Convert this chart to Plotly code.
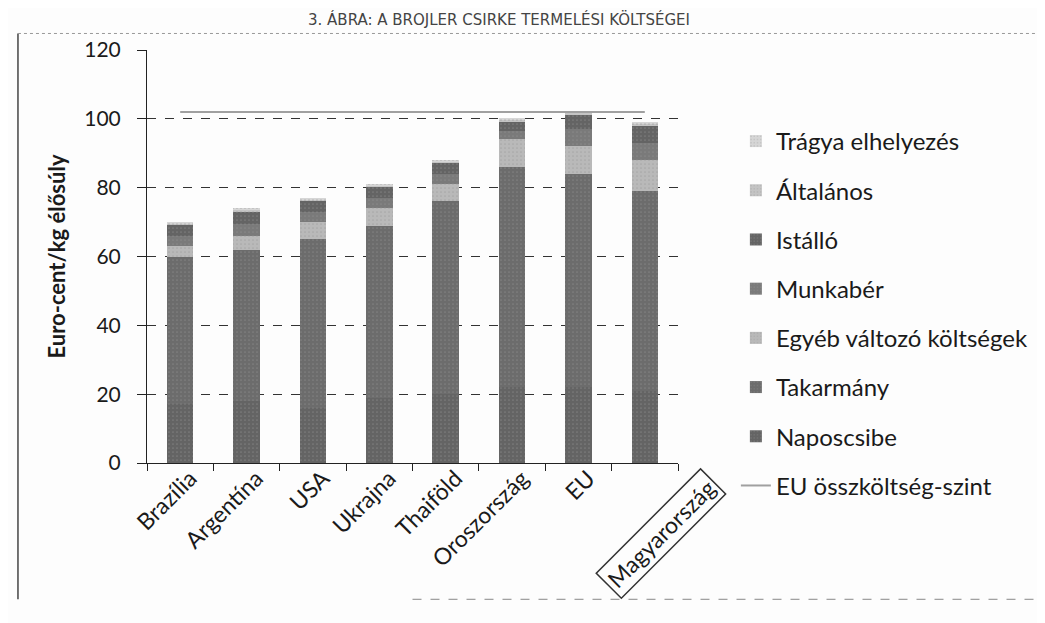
import plotly.graph_objects as go

# values (euro-cent / kg live weight)
countries = ['Brazília', 'Argentína', 'USA', 'Ukrajna', 'Thaiföld', 'Oroszország', 'EU', 'Magyarország']
naposcsibe = [17, 18, 16, 19, 20, 22, 22, 21]
takarmany = [43, 44, 49, 50, 56, 64, 62, 58]
egyeb = [3, 4, 5, 5, 5, 8, 8, 9]
munkaber = [3, 3.5, 3, 3, 3, 2.5, 5, 5]
istallo = [3.2, 3.7, 3.2, 3.2, 3.2, 2.7, 4.2, 5.2]
altalanos = [0.5, 0.5, 0.5, 0.5, 0.5, 0.5, 0.5, 0.5]
tragya = [0.3, 0.3, 0.3, 0.3, 0.3, 0.3, 0.3, 0.3]

series = [
    ('Naposcsibe', naposcsibe, '#646464'),
    ('Takarmány', takarmany, '#6c6c6c'),
    ('Egyéb változó költségek', egyeb, '#b9b9b9'),
    ('Munkabér', munkaber, '#7a7a7a'),
    ('Istálló', istallo, '#646464'),
    ('Általános', altalanos, '#c4c4c4'),
    ('Trágya elhelyezés', tragya, '#d6d6d6'),
]

eu_i = countries.index('EU')
eu_level = sum(s[1][eu_i] for s in series)

font_main = 'Lato, Open Sans, sans-serif'

fig = go.Figure()
n = len(series)
for i, (name, vals, col) in enumerate(series):
    fig.add_trace(go.Bar(x=countries, y=vals, name=name, legendgroup=str(i), legendrank=n - i,
                         marker=dict(color=col, line=dict(width=0),
                                     pattern=dict(shape='.', fgcolor='#959595', size=4, solidity=0.15))))

fig.add_trace(go.Scatter(x=countries, y=[eu_level] * len(countries), mode='lines',
                         name='EU összköltség-szint', legendgroup='eu', legendrank=n + 1,
                         line=dict(color='#a0a0a0', width=2)))

# tick label of the last category is drawn as a boxed annotation instead
ticktext = countries[:-1] + ['']

fig.update_layout(
    width=1045, height=623,
    barmode='stack', bargap=0.6,
    paper_bgcolor='#fdfdfd', plot_bgcolor='#fdfdfd',
    margin=dict(l=139, r=375, t=42, b=168),
    font=dict(family=font_main, color='#1a1a1a'),
    showlegend=True,
    legend=dict(x=1.109, y=0.833, xanchor='left', yanchor='top',
                traceorder='grouped', tracegroupgap=15,
                font=dict(size=24, family=font_main), bgcolor='rgba(0,0,0,0)'),
    xaxis=dict(type='category', range=[-0.5, len(countries) - 0.5],
               tickvals=countries, ticktext=ticktext, tickangle=-45, automargin=False,
               tickfont=dict(size=23), showline=True, linecolor='#222', linewidth=1,
               ticks='outside', tickson='boundaries', ticklen=7, tickcolor='#222',
               ticklabelstandoff=-8, ticklabelshift=10,
               showgrid=False),
    yaxis=dict(range=[0, 120], dtick=20, tickfont=dict(size=21), automargin=False,
               showline=True, linecolor='#222', linewidth=1,
               ticks='outside', ticklen=9, tickcolor='#222', ticklabelstandoff=12,
               showgrid=True, gridcolor='#333', gridwidth=1, griddash='dash',
               zeroline=False,
               title=dict(text='<b>Euro-cent/kg élősúly</b>', font=dict(size=22), standoff=12)),
)

fig.add_annotation(x=countries[-1], y=0, xref='x', yref='y', yshift=-70, xshift=16,
                   text=countries[-1], textangle=-45, showarrow=False,
                   font=dict(size=23, family=font_main),
                   bordercolor='#333', borderwidth=1.5, borderpad=3)

# chapter title at the very top of the scan
fig.add_annotation(x=0.3, y=1.1017, xref='paper', yref='paper', xanchor='left', yanchor='top',
                   text='3. ÁBRA: A BROJLER CSIRKE TERMELÉSI KÖLTSÉGEI',
                   showarrow=False, font=dict(size=15, family='DejaVu Sans', color='#444'))

# page frame from the scan
fig.add_shape(type='line', xref='paper', yref='paper', x0=-0.243, x1=-0.243, y0=-0.33, y1=1.04,
              line=dict(color='#444', width=1.5))
fig.add_shape(type='line', xref='paper', yref='paper', x0=-0.243, x1=1.7, y0=1.04, y1=1.04,
              line=dict(color='#999', width=1, dash='dot'))
fig.add_shape(type='line', xref='paper', yref='paper', x0=0.5, x1=1.72, y0=-0.33, y1=-0.33,
              line=dict(color='#888', width=1, dash='dash'))

fig.write_html('out.html')
